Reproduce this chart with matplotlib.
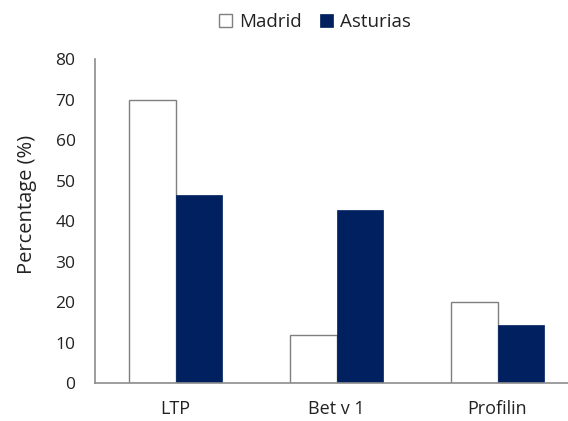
import numpy as np
import matplotlib.pyplot as plt

# ------------------------------------ data ------------------------------------
categories = ['LTP', 'Bet v 1', 'Profilin']
madrid = [70, 12, 20]
asturias = [46.4, 42.9, 14.3]
series_names = ['Madrid', 'Asturias']
y_ticks = [0, 10, 20, 30, 40, 50, 60, 70, 80]

plt.rcParams['font.family'] = ['Open Sans', 'DejaVu Sans']

fig = plt.figure(figsize=(5.68, 4.21), dpi=100)
ax = fig.add_axes([0.1673, 0.0895, 0.8503, 0.7692])

x = np.arange(len(categories))
w = 0.288
ax.bar(x - w / 2, madrid, w, color='white', edgecolor='#7f7f7f', linewidth=1.0,
       label=series_names[0])
ax.bar(x + w / 2, asturias, w, color='#002060', edgecolor='#002060', linewidth=0.5,
       label=series_names[1])

ax.set_xlim(-0.5, 2.5)
ax.set_ylim(0, 80)
ax.set_yticks(y_ticks)
ax.set_xticks(x)
ax.set_xticklabels(categories)
ax.tick_params(axis='y', length=0, pad=14, labelsize=12.5, labelcolor='#222222')
ax.tick_params(axis='x', length=0, pad=12, labelsize=13, labelcolor='#222222')

for s in ['top', 'right']:
    ax.spines[s].set_visible(False)
for s in ['left', 'bottom']:
    ax.spines[s].set_color('#8c8c8c')
    ax.spines[s].set_linewidth(1.2)

fig.text(0.048, 0.515, 'Percentage (%)', rotation=90, ha='center', va='center',
         fontsize=14.5, color='#222222')

leg = fig.legend(loc='center', bbox_to_anchor=(0.555, 0.948), ncol=2, frameon=False,
                 fontsize=13.5, handlelength=0.65, handleheight=0.65,
                 handletextpad=0.4, columnspacing=1.0)
for t in leg.get_texts():
    t.set_color('#222222')

plt.savefig('out.png', dpi=100)
plt.close()
